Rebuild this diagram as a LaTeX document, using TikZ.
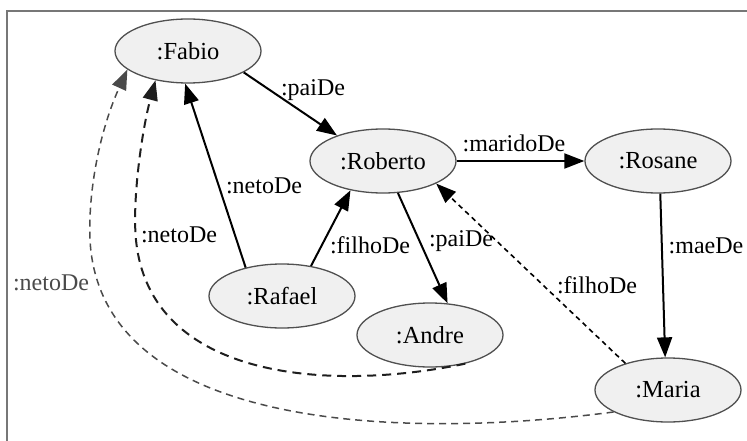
\documentclass[tikz,border=0pt]{standalone}
\usepackage{fontspec}
\setmainfont{Liberation Serif}
\usetikzlibrary{arrows.meta,shapes.geometric}
\definecolor{nodefill}{HTML}{F0F0F0}
\definecolor{nodeline}{HTML}{505050}
\definecolor{framegray}{HTML}{777777}
\definecolor{greyedge}{HTML}{4A4A4A}
\definecolor{darkedge}{HTML}{1E1E1E}
\tikzset{
  obj/.style={ellipse, draw=nodeline, fill=nodefill, line width=1.3pt,
    minimum width=146pt, minimum height=64pt, inner sep=0pt,
    font=\fontsize{24.5}{28}\selectfont},
  lbl/.style={font=\fontsize{24}{28}\selectfont, inner sep=0pt},
  rel/.style={line width=2pt, -{Triangle[length=20pt,width=15pt]}},
  infrel/.style={line width=1.6pt, dash pattern=on 5pt off 4pt, -{Triangle[length=20pt,width=15pt]}},
  netorel/.style={line width=2pt, darkedge, dash pattern=on 9pt off 6pt, -{Triangle[length=20pt,width=15pt]}},
  netogrey/.style={line width=1.5pt, greyedge, dash pattern=on 7pt off 5pt, -{Triangle[length=20pt,width=15pt]}},
}
\begin{document}
\begin{tikzpicture}[x=1pt,y=-1pt]
\useasboundingbox (0,0) rectangle (747,441);
\draw[framegray, line width=2pt] (747,11) -- (7,11) -- (7,441);

\node[obj] (fabio) at (188,51) {:Fabio};
\node[obj] (roberto) at (383,161) {:Roberto};
\node[obj] (rosane) at (658,161) {:Rosane};
\node[obj] (rafael) at (282,296) {:Rafael};
\node[obj] (andre) at (430,335) {:Andre};
\node[obj] (maria) at (668,390) {:Maria};

\draw[rel] (fabio.-21) -- (roberto.151);
\draw[rel] (rafael.142) -- (fabio.-95);
\draw[rel] (rafael.46) -- (roberto.-138);
\draw[rel] (roberto.-65) -- (andre.61);
\draw[rel] (roberto.east) -- (rosane.west);
\draw[rel] (rosane.-86) -- (maria.95);
\draw[infrel] (maria.148) -- (roberto.-23);
\draw[netorel] (andre.-39) .. controls (330,392) and (150,380) .. (136,240)
  .. controls (132,200) and (142,130) .. (fabio.-138);
\draw[netogrey] (maria.-158) .. controls (400,440) and (100,430) .. (90,240)
  .. controls (88,190) and (100,130) .. (fabio.-163);

\node[lbl] (l1) at (313,90) {:paiDe};
\node[lbl] (l2) at (264,186) {:netoDe};
\node[lbl] (l3) at (370,245) {:filhoDe};
\node[lbl] (l4) at (461,241) {:paiDe};
\node[lbl] (l5) at (514,143) {:maridoDe};
\node[lbl] (l6) at (706,246) {:maeDe};
\node[lbl] (l7) at (597,285) {:filhoDe};
\node[lbl] (l8) at (179,235) {:netoDe};
\node[lbl, text=greyedge] (l9) at (51,283) {:netoDe};
\end{tikzpicture}
\end{document}
